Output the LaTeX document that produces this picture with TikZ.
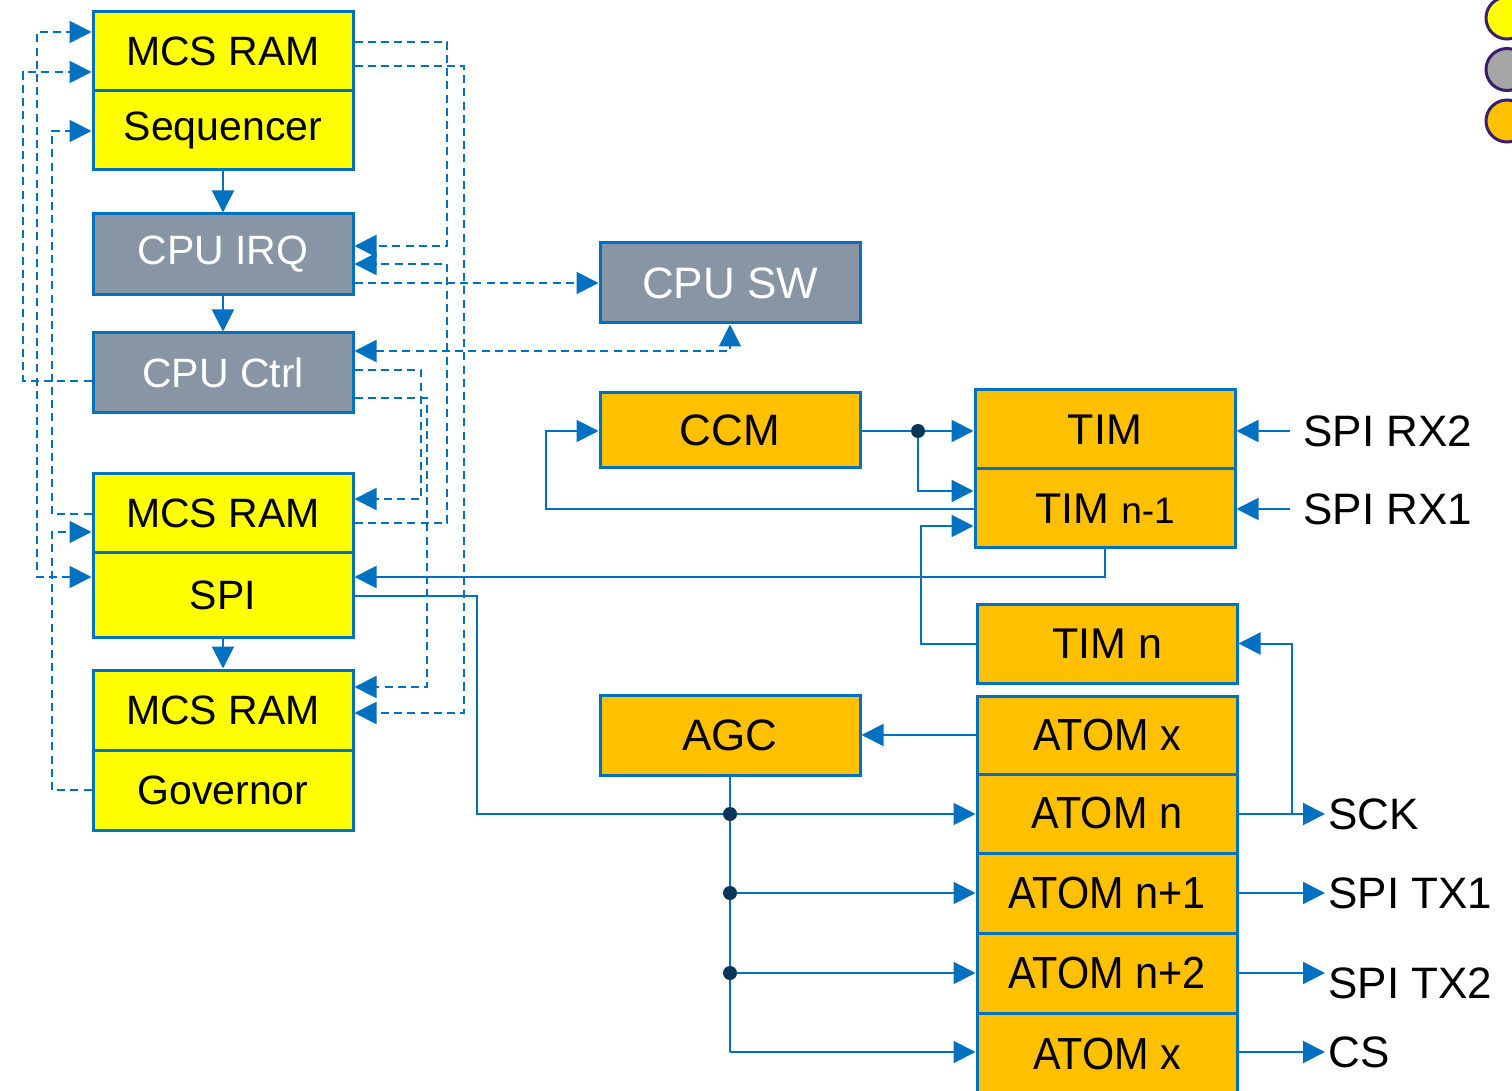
\documentclass[tikz,border=0pt]{standalone}
\usepackage{fontspec}
\setmainfont{Liberation Sans}
\usetikzlibrary{arrows.meta}
\definecolor{lineblue}{HTML}{0070C0}
\definecolor{boxyellow}{HTML}{FFFF00}
\definecolor{boxgray}{HTML}{8795A4}
\definecolor{boxorange}{HTML}{FFC000}
\definecolor{dotblue}{HTML}{0B3558}
\definecolor{keygray}{HTML}{A6A6A6}
\definecolor{keyring}{HTML}{3B1E6B}
\newcommand\fsz[1]{\fontsize{#1}{#1}\selectfont}
\newcommand\narrowtxt[1]{\scalebox{0.92}[1]{#1}}
\begin{document}
\begin{tikzpicture}[x=0.5pt,y=-0.5pt,
  blk/.style={draw=lineblue, line width=1.5pt, minimum width=130pt, inner sep=0pt, anchor=center},
  ybox/.style={blk, fill=boxyellow, font=\fsz{20.5}},
  gbox/.style={blk, fill=boxgray, text=white, font=\fsz{20.5}},
  obox/.style={blk, fill=boxorange, font=\fsz{21.5}},
  abox/.style={blk, fill=boxorange, font=\fsz{22.5}},
  wire/.style={draw=lineblue, line width=1pt},
  dline/.style={wire, dash pattern=on 4pt off 2.6pt},
  arr/.style={-{Triangle[length=11pt,width=11pt]}},
  barr/.style={{Triangle[length=11pt,width=11pt]}-{Triangle[length=11pt,width=11pt]}},
  lbl/.style={inner ysep=0pt, font=\fsz{22}, anchor=west},
  jdot/.style={circle, fill=dotblue, inner sep=0pt, minimum size=7pt},
  keydot/.style={circle, draw=keyring, line width=1.5pt, minimum size=21pt, inner sep=0pt}]
\clip (0,0) rectangle (1512,1091);
\fill[white] (0,0) rectangle (1512,1091);

% colour key, top right
\node[keydot, fill=boxyellow] (keyy) at (1507,18) {};
\node[keydot, fill=keygray] (keyg) at (1507,69.5) {};
\node[keydot, fill=boxorange] (keyo) at (1507,121) {};

% MCS column
\node[ybox, minimum height=39.5pt] (mcs1) at (223,51.5) {MCS RAM};
\node[ybox, minimum height=39.5pt] (seq) at (223,130.5) {Sequencer};
\node[gbox, minimum height=40.5pt] (irq) at (223,254.5) {CPU IRQ};
\node[gbox, minimum height=40pt] (ctrl) at (223,373) {CPU Ctrl};
\node[ybox, minimum height=39.5pt] (mcs2) at (223,513.5) {MCS RAM};
\node[ybox, minimum height=42pt] (spi) at (223,595) {SPI};
\node[ybox, minimum height=40pt] (mcs3) at (223,710) {MCS RAM};
\node[ybox, minimum height=40pt] (gov) at (223,790) {Governor};

% middle blocks
\node[gbox, minimum height=40pt, font=\fsz{22}] (cpusw) at (730,283) {CPU SW};
\node[obox, minimum height=37.5pt, font=\fsz{22}] (ccm) at (730,430.5) {CCM};
\node[obox, minimum height=40pt, font=\fsz{22}] (agc) at (730,735) {AGC};

% TIM and ATOM blocks
\node[obox, minimum height=39.5pt] (tim) at (1105,429.5) {TIM};
\node[obox, minimum height=39.5pt] (timn1) at (1105,508.5) {TIM {\fsz{18.5}n-1}};
\node[obox, minimum height=39.5pt] (timn) at (1107,643.5) {TIM n};
\node[abox, minimum height=39pt] (atomx1) at (1107,735) {\narrowtxt{ATOM x}};
\node[abox, minimum height=39.5pt] (atomn) at (1107,813.5) {\narrowtxt{ATOM n}};
\node[abox, minimum height=40pt] (atomn1) at (1107,893) {\narrowtxt{ATOM n+1}};
\node[abox, minimum height=40pt] (atomn2) at (1107,973) {\narrowtxt{ATOM n+2}};
\node[abox, minimum height=41pt] (atomx2) at (1107,1054) {\narrowtxt{ATOM x}};

% pin labels
\node[lbl, inner xsep=6.5pt] (rx2) at (1290,431) {SPI RX2};
\node[lbl, inner xsep=6.5pt] (rx1) at (1290,509) {SPI RX1};
\node[lbl, inner xsep=1.5pt] (sck) at (1325,814) {SCK};
\node[lbl, inner xsep=1.5pt] (tx1) at (1325,893) {SPI TX1};
\node[lbl, inner xsep=1.5pt] (tx2) at (1325,983) {SPI TX2};
\node[lbl, inner xsep=1.5pt] (cs) at (1325,1052) {CS};

% dashed control paths, left side
\draw[dline, barr] (spi.west |- 0,577) -- (37,577) -- (37,32) -- (mcs1.west |- 0,32);
\draw[dline, arr] (ctrl.west |- 0,381) -- (23,381) -- (23,72) -- (mcs1.west |- 0,72);
\draw[dline, arr] (mcs2.west |- 0,514) -- (52,514) -- (52,131) -- (seq.west |- 0,131);
\draw[dline, arr] (gov.west |- 0,790) -- (52,790) -- (52,532) -- (mcs2.west |- 0,532);

% dashed control paths, right side
\draw[dline, arr] (mcs1.east |- 0,42) -- (447,42) -- (447,246) -- (irq.east |- 0,246);
\draw[dline, arr] (mcs1.east |- 0,66) -- (464,66) -- (464,713) -- (mcs3.east |- 0,713);
\draw[dline, arr] (mcs2.east |- 0,523) -- (447,523) -- (447,264) -- (irq.east |- 0,264);
\draw[dline, arr] (irq.east |- cpusw.west) -- (cpusw.west);
\draw[dline, barr] (ctrl.east |- 0,351) -- (730,351) -- (cpusw.south);
\draw[dline, arr] (ctrl.east |- 0,370) -- (421,370) -- (421,499) -- (mcs2.east |- 0,499);
\draw[dline, arr] (ctrl.east |- 0,398) -- (427,398) -- (427,687) -- (mcs3.east |- 0,687);

% solid flow
\draw[wire, arr] (seq.south) -- (irq.north);
\draw[wire, arr] (irq.south) -- (ctrl.north);
\draw[wire, arr] (spi.south) -- (mcs3.north);
\draw[wire, arr] (timn1.south) -- (1105,577) -- (spi.east |- 0,577);

% CCM / TIM loop
\coordinate (ccmsplit) at (918,431);
\draw[wire] (ccm.east |- ccmsplit) -- (ccmsplit);
\draw[wire, arr] (ccmsplit) -- (tim.west |- ccmsplit);
\draw[wire, arr] (ccmsplit) -- (918,491) -- (timn1.west |- 0,491);
\draw[wire, arr] (timn1.west |- 0,509) -- (546,509) -- (546,431) -- (ccm.west |- 0,431);
\draw[wire, arr] (timn.west) -- (921,643.5) -- (921,526) -- (timn1.west |- 0,526);
\node[jdot] (d0) at (ccmsplit) {};

% inputs
\draw[wire, arr] (rx2.west) -- (tim.east |- rx2.west);
\draw[wire, arr] (rx1.west) -- (timn1.east |- rx1.west);

% SPI to ATOM, AGC fan-out
\coordinate (j1) at (730,814);
\coordinate (j2) at (730,893);
\coordinate (j3) at (730,973);
\coordinate (j4) at (730,1052);
\draw[wire, arr] (spi.east |- 0,596) -- (477,596) -- (477,814) -- (atomn.west |- j1);
\draw[wire] (agc.south) -- (j4);
\draw[wire, arr] (j2) -- (atomn1.west |- j2);
\draw[wire, arr] (j3) -- (atomn2.west |- j3);
\draw[wire, arr] (j4) -- (atomx2.west |- j4);
\draw[wire, arr] (atomx1.west) -- (agc.east);
\node[jdot] (d1) at (j1) {};
\node[jdot] (d2) at (j2) {};
\node[jdot] (d3) at (j3) {};

% outputs
\coordinate (sckbr) at (1292,814);
\draw[wire, arr] (atomn.east |- sckbr) -- (sck.west);
\draw[wire, arr] (sckbr) -- (1292,643.5) -- (timn.east);
\draw[wire, arr] (atomn1.east |- tx1.west) -- (tx1.west |- 0,893);
\draw[wire, arr] (atomn2.east |- 0,973) -- (tx2.west |- 0,973);
\draw[wire, arr] (atomx2.east |- cs.west) -- (cs.west);
\end{tikzpicture}
\end{document}
